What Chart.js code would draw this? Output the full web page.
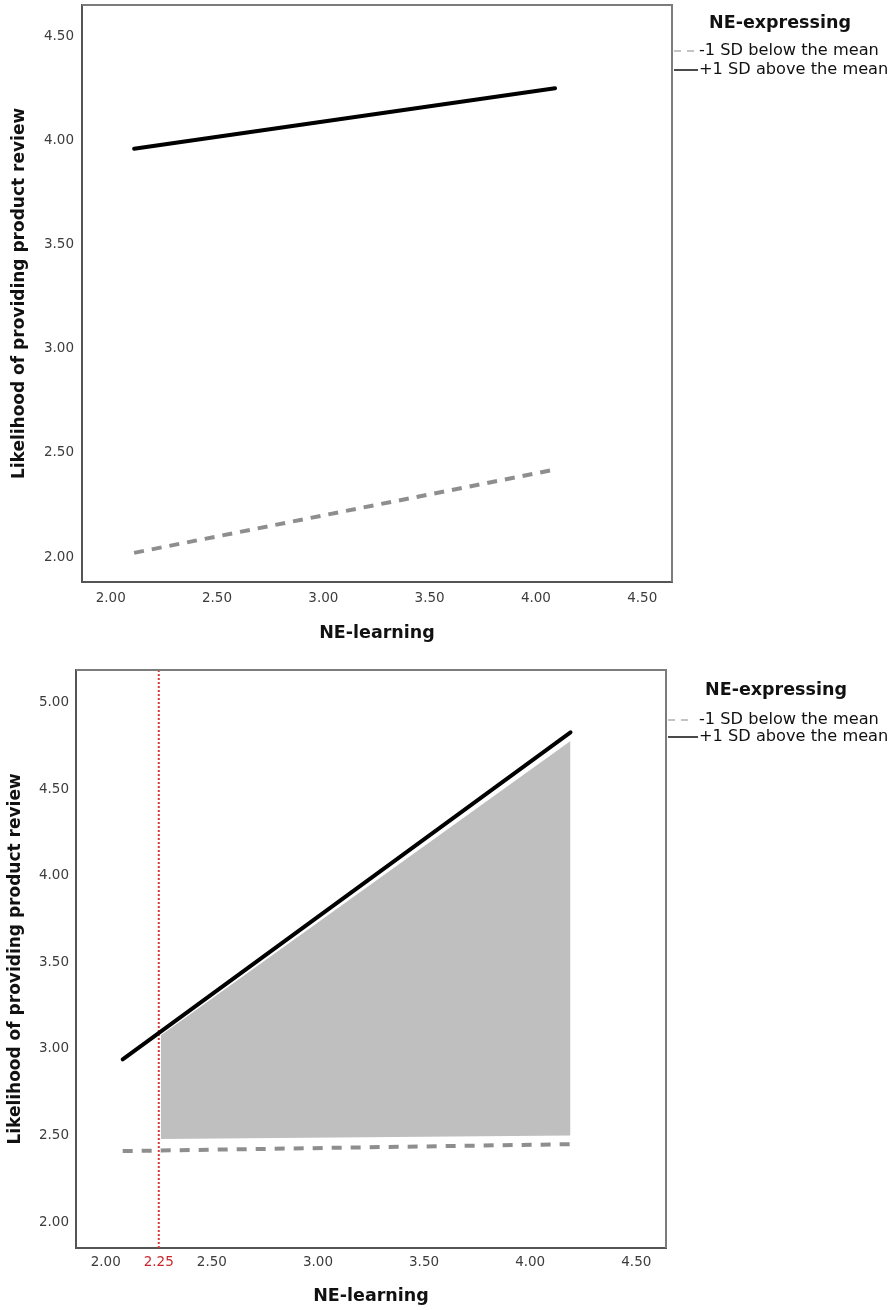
<!DOCTYPE html>
<html><head><meta charset="utf-8">
<script src="https://cdn.jsdelivr.net/npm/chart.js@4/dist/chart.umd.min.js"></script>
<style>
html,body{margin:0;padding:0;background:#fff;}
canvas{display:block;}
</style></head>
<body>
<canvas id="c1" width="893" height="650"></canvas>
<canvas id="c2" width="893" height="660"></canvas>
<script>
// ---- data ----
const seriesLabels = ['-1 SD below the mean', '+1 SD above the mean'];
const legendTitle = 'NE-expressing';
const xTitle = 'NE-learning';
const yTitle = 'Likelihood of providing product review';

// top panel
const topX = [2.11, 4.09];
const topLow = [2.02, 2.42];
const topHigh = [3.96, 4.25];
const topXTicks = [2.0, 2.5, 3.0, 3.5, 4.0, 4.5];
const topYTicks = [2.0, 2.5, 3.0, 3.5, 4.0, 4.5];

// bottom panel
const botX = [2.08, 4.19];
const botLow = [2.41, 2.45];
const botHigh = [2.94, 4.83];
const regionX = [2.26, 4.19];
const regionUpper = [3.08, 4.78];
const regionLower = [2.48, 2.50];
const jnPoint = 2.25;
const botXTicks = [2.0, 2.25, 2.5, 3.0, 3.5, 4.0, 4.5];
const botYTicks = [2.0, 2.5, 3.0, 3.5, 4.0, 4.5, 5.0];

// ---- helpers ----
const pts = (xs, ys) => xs.map((x, i) => ({x: x, y: ys[i]}));
const FONT = "'DejaVu Sans', sans-serif";
Chart.defaults.font.family = FONT;
const RED = '#c8282d';

const framePlugin = {
  id: 'frame',
  afterDatasetsDraw(chart) {
    const {ctx, chartArea: a} = chart;
    ctx.save();
    ctx.strokeStyle = '#7c7c7c';
    ctx.lineWidth = 2;
    ctx.beginPath();
    ctx.moveTo(a.left, a.top);
    ctx.lineTo(a.right, a.top);
    ctx.lineTo(a.right, a.bottom);
    ctx.stroke();
    ctx.restore();
  }
};

const legendPlugin = {
  id: 'sideLegend',
  afterDraw(chart, args, o) {
    const {ctx, chartArea: a} = chart;
    ctx.save();
    ctx.fillStyle = '#111';
    ctx.textBaseline = 'middle';
    ctx.textAlign = 'center';
    ctx.font = 'bold 17.5px ' + FONT;
    ctx.fillText(o.title, a.right + o.titleDx, a.top + o.titleDy);
    o.items.forEach((it, i) => {
      const y = a.top + o.rowDy[i];
      ctx.strokeStyle = it.color;
      ctx.lineWidth = 2;
      ctx.setLineDash(it.dash);
      ctx.beginPath();
      ctx.moveTo(a.right + o.sampleDx0, y);
      ctx.lineTo(a.right + o.sampleDx1[i], y);
      ctx.stroke();
      ctx.setLineDash([]);
      ctx.textAlign = 'left';
      ctx.font = '16.2px ' + FONT;
      ctx.fillStyle = '#111';
      ctx.fillText(it.label, a.right + o.textDx, y);
    });
    ctx.restore();
  }
};

function axisCommon(ticksArr, min, max, opts) {
  return {
    type: 'linear',
    min: min, max: max,
    grid: {display: false, drawTicks: false},
    border: {display: true, color: '#555', width: 2},
    afterBuildTicks: s => { s.ticks = ticksArr.map(v => ({value: v})); },
    ticks: {
      autoSkip: false, maxRotation: 0, minRotation: 0,
      padding: opts.tickPad,
      font: {size: 13.5},
      color: opts.tickColor || '#3c3c3c',
      callback: v => Number(v).toFixed(2)
    },
    title: {
      display: true, text: opts.title,
      color: '#111',
      font: {size: opts.titleSize, weight: 'bold'},
      padding: opts.titlePad
    },
    afterFit: opts.afterFit
  };
}

function legendOpts(o) {
  return Object.assign({
    title: legendTitle,
    items: [
      {label: seriesLabels[0], color: '#c4c4c4', dash: [7, 6]},
      {label: seriesLabels[1], color: '#4a4a4a', dash: []}
    ]
  }, o);
}

// ---- top chart ----
new Chart(document.getElementById('c1'), {
  type: 'line',
  data: {
    datasets: [
      {label: seriesLabels[1], data: pts(topX, topHigh), borderColor: '#000', borderWidth: 4,
       borderCapStyle: 'round', pointRadius: 0, fill: false},
      {label: seriesLabels[0], data: pts(topX, topLow), borderColor: '#8e8e8e', borderWidth: 4,
       borderDash: [10, 8], pointRadius: 0, fill: false}
    ]
  },
  options: {
    responsive: false, animation: false, events: [],
    layout: {padding: {left: 0, right: 221, top: 5, bottom: 0}},
    plugins: {
      legend: {display: false}, tooltip: {enabled: false},
      sideLegend: legendOpts({titleDx: 108, titleDy: 18, rowDy: [46, 65],
        sampleDx0: 2, sampleDx1: [24, 26], textDx: 27})
    },
    scales: {
      x: axisCommon(topXTicks, 1.865, 4.64, {tickPad: 8, title: xTitle, titleSize: 17.5,
        titlePad: {top: 0, bottom: 6}, afterFit: s => { s.height = 68; s.paddingLeft = 0; s.paddingRight = 0; }}),
      y: axisCommon(topYTicks, 1.88, 4.65, {tickPad: 8, title: yTitle, titleSize: 17,
        titlePad: {top: 9, bottom: 0}, afterFit: s => { s.width = 82; s.paddingTop = 0; s.paddingBottom = 0; }})
    }
  },
  plugins: [framePlugin, legendPlugin]
});

// ---- bottom chart ----
const botYMin = 1.85, botYMax = 5.19;
new Chart(document.getElementById('c2'), {
  type: 'line',
  data: {
    datasets: [
      {label: seriesLabels[1], data: pts(botX, botHigh), borderColor: '#000', borderWidth: 4,
       borderCapStyle: 'round', pointRadius: 0, fill: false},
      {label: seriesLabels[0], data: pts(botX, botLow), borderColor: '#8e8e8e', borderWidth: 4,
       borderDash: [10, 9], pointRadius: 0, fill: false},
      {label: 'J-N', data: [{x: jnPoint, y: botYMin}, {x: jnPoint, y: botYMax}], borderColor: '#d43a3a',
       borderWidth: 2, borderDash: [2, 2], pointRadius: 0, fill: false},
      {label: 'region', data: pts(regionX, regionUpper), borderColor: 'rgba(0,0,0,0)', borderWidth: 0.01,
       backgroundColor: '#bfbfbf', pointRadius: 0, fill: '+1'},
      {label: 'regionLow', data: pts(regionX, regionLower), borderColor: 'rgba(0,0,0,0)', borderWidth: 0.01,
       pointRadius: 0, fill: false}
    ]
  },
  options: {
    responsive: false, animation: false, events: [],
    layout: {padding: {left: 0, right: 227, top: 20, bottom: 0}},
    plugins: {
      legend: {display: false}, tooltip: {enabled: false},
      filler: {drawTime: 'beforeDatasetsDraw'},
      sideLegend: legendOpts({titleDx: 110, titleDy: 20, rowDy: [50, 67],
        sampleDx0: 2, sampleDx1: [28, 32], textDx: 33})
    },
    scales: {
      x: axisCommon(botXTicks, 1.86, 4.64, {tickPad: 6, title: xTitle, titleSize: 17.5,
        titlePad: {top: 0, bottom: 3},
        tickColor: c => (c.tick && Math.abs(c.tick.value - jnPoint) < 1e-6) ? RED : '#3c3c3c',
        afterFit: s => { s.height = 62; s.paddingLeft = 0; s.paddingRight = 0; }}),
      y: axisCommon(botYTicks, botYMin, botYMax, {tickPad: 7, title: yTitle, titleSize: 17,
        titlePad: {top: 5, bottom: 0}, afterFit: s => { s.width = 76; s.paddingTop = 0; s.paddingBottom = 0; }})
    }
  },
  plugins: [framePlugin, legendPlugin]
});
</script>
</body></html>
